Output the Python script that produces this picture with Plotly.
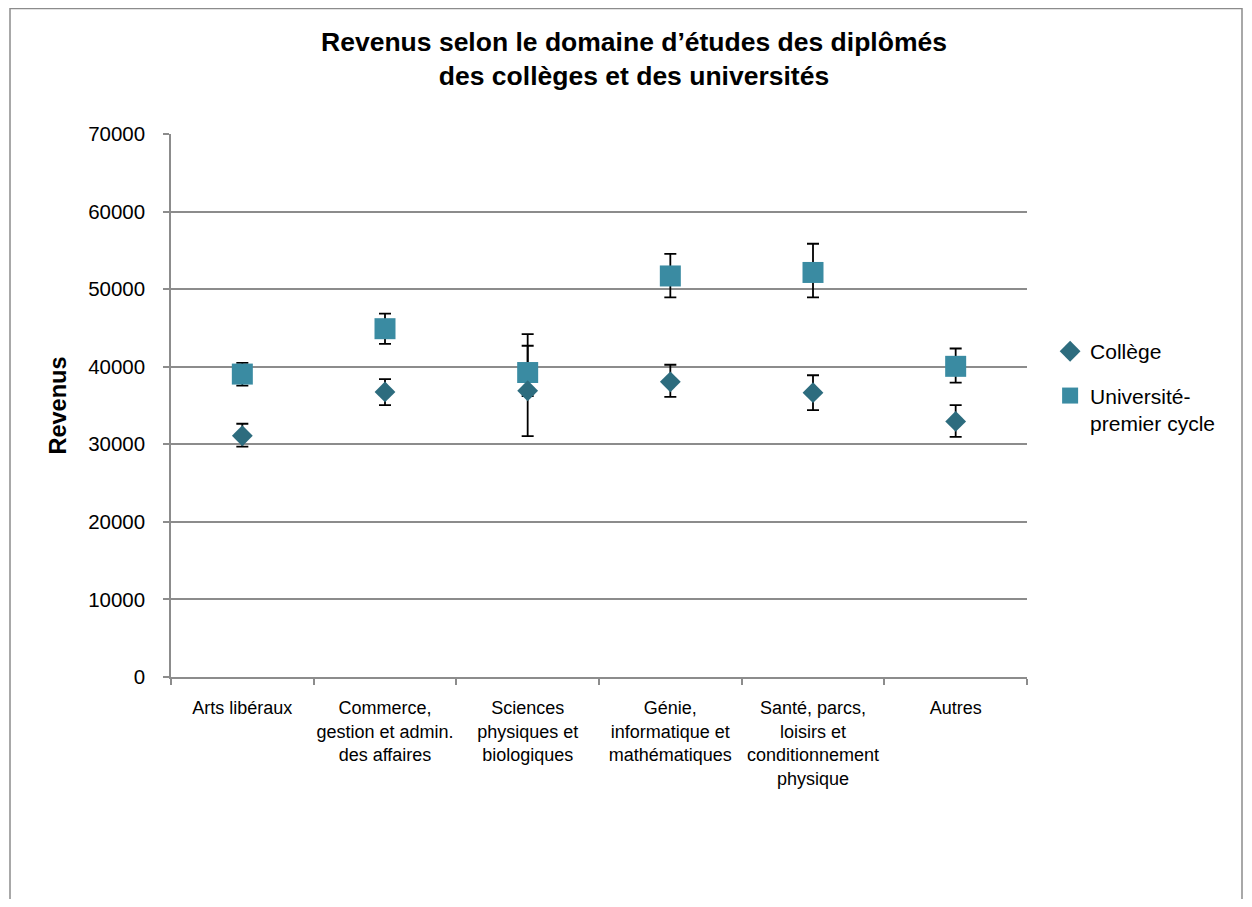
import plotly.graph_objects as go

categories = ["Arts libéraux", "Commerce,<br>gestion et admin.<br>des affaires",
              "Sciences<br>physiques et<br>biologiques", "Génie,<br>informatique et<br>mathématiques",
              "Santé, parcs,<br>loisirs et<br>conditionnement<br>physique", "Autres"]
college = [31100, 36750, 36900, 38050, 36650, 32950]
college_plus = [1550, 1650, 7300, 2200, 2250, 2100]
college_minus = [1400, 1700, 5850, 1950, 2250, 2000]
univ = [39050, 44900, 39250, 51700, 52150, 40050]
univ_plus = [1450, 1950, 3450, 2850, 3700, 2300]
univ_minus = [1500, 1950, 3050, 2750, 3200, 2100]
y_ticks = [0, 10000, 20000, 30000, 40000, 50000, 60000, 70000]

pos = list(range(len(categories)))
FONT = "Liberation Sans, Arial, sans-serif"
GRAY = "#8c8c8c"
C_COL = "#2D6C7E"
C_UNI = "#3A8BA2"

# page has an 8px body margin: figure coords = reference coords - 8
W, H = 1236, 891
L, T, R, B = 163, 126, 1019, 669
pw, ph = R - L, B - T

fig = go.Figure()
# error bars (drawn beneath all markers)
for vals, plus, minus in [(college, college_plus, college_minus), (univ, univ_plus, univ_minus)]:
    fig.add_trace(go.Scatter(
        x=pos, y=vals, mode="markers", showlegend=False, hoverinfo="skip",
        marker=dict(color="rgba(0,0,0,0)", size=1),
        error_y=dict(type="data", symmetric=False, array=plus, arrayminus=minus,
                     color="black", thickness=1.8, width=6)))
fig.add_trace(go.Scatter(
    x=pos, y=univ, mode="markers", name="Université-<br>premier cycle", legendrank=2,
    legendgroup="u", marker=dict(symbol="square", size=21, color=C_UNI)))
fig.add_trace(go.Scatter(
    x=pos, y=college, mode="markers", name="Collège", legendrank=1,
    legendgroup="c", marker=dict(symbol="diamond", size=16, color=C_COL)))

fig.update_layout(
    width=W, height=H,
    margin=dict(l=L, r=W - R, t=T, b=H - B),
    paper_bgcolor="white", plot_bgcolor="white",
    font=dict(family=FONT, color="black"),
    title=dict(text="<b>Revenus selon le domaine d’études des diplômés<br>des collèges et des universités</b>",
               x=(626 - L) / pw, xref="paper", xanchor="center", y=1 - 43 / H, yanchor="top",
               font=dict(size=26.5, family=FONT, color="black")),
    showlegend=True,
    legend=dict(x=1.027, y=0.637, xanchor="left", yanchor="top", traceorder="grouped",
                tracegroupgap=14, valign="top", font=dict(size=21, family=FONT),
                bgcolor="rgba(0,0,0,0)"),
    xaxis=dict(range=[-0.5, 5.5], tickmode="array", tickvals=pos, ticktext=categories,
               ticks="", showgrid=False, zeroline=False, showline=True, linecolor=GRAY,
               linewidth=1.5, tickfont=dict(size=18, family=FONT), ticklabelstandoff=14,
               minor=dict(tickmode="array", tickvals=[p - 0.5 for p in pos] + [5.5],
                          ticks="outside", ticklen=6, tickcolor=GRAY, tickwidth=1.5, showgrid=False)),
    yaxis=dict(range=[0, 70000], tickmode="array", tickvals=y_ticks,
               ticktext=[str(v) for v in y_ticks], ticks="outside", ticklen=6,
               tickcolor=GRAY, tickwidth=1.5, showgrid=True, gridcolor=GRAY, gridwidth=1.5,
               zeroline=False, showline=True, linecolor=GRAY, linewidth=1.5,
               tickfont=dict(size=20.5, family=FONT), ticklabelstandoff=14,
               title=dict(text="<b>Revenus</b>", standoff=15, font=dict(size=23.5, family=FONT))),
    shapes=[dict(type="rect", xref="paper", yref="paper",
                 x0=(2 - L) / pw, x1=(1234 - L) / pw,
                 y0=(B - 892) / ph, y1=(B - 0.5) / ph,
                 line=dict(color=GRAY, width=1.5), fillcolor="rgba(0,0,0,0)", layer="below")],
)

fig.write_html("out.html")
